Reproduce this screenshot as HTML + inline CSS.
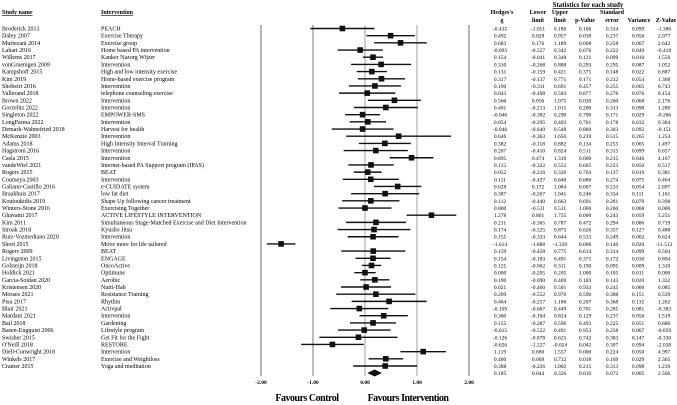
<!DOCTYPE html>
<html><head><meta charset="utf-8"><style>
html,body{margin:0;padding:0;background:#fff}
svg{display:block;font-family:"Liberation Serif",serif}
</style></head><body>
<svg id="chart" width="677" height="405" viewBox="0 0 677 405" xmlns="http://www.w3.org/2000/svg">
<g font-weight="bold" font-size="6" fill="#000">
<text x="2" y="14" text-decoration="underline">Study name</text>
<text x="101" y="14" text-decoration="underline">Intervention</text>
<text x="588" y="7" text-anchor="middle" font-size="7" text-decoration="underline">Statistics for each study</text>
<text x="502" y="14" text-anchor="middle">Hedges's</text>
<text x="502" y="22" text-anchor="middle">g</text>
<text x="538" y="14" text-anchor="middle">Lower</text>
<text x="538" y="22" text-anchor="middle">limit</text>
<text x="560" y="14" text-anchor="middle">Upper</text>
<text x="560" y="22" text-anchor="middle">limit</text>
<text x="585" y="22" text-anchor="middle">p-Value</text>
<text x="612" y="14" text-anchor="middle">Standard</text>
<text x="612" y="22" text-anchor="middle">error</text>
<text x="639" y="22" text-anchor="middle">Variance</text>
<text x="666" y="22" text-anchor="middle">Z-Value</text>
</g>
<g id="grid"></g>
<g id="rows"></g>
<g id="axis"></g>
<text x="307" y="401" text-anchor="middle" font-weight="bold" font-size="10" letter-spacing="-0.5">Favours Control</text>
<text x="408" y="401" text-anchor="middle" font-weight="bold" font-size="10" letter-spacing="-0.5">Favours Intervention</text>
</svg>
<script>
const studies=["Broderick 2013","Daley 2007","Murtezani 2014","Lahart 2016","Willems 2017","vonGruenigen 2009","Kampshoff 2015","Kim 2019","Shobeiri 2016","Vallerand 2018","Brown 2022","Gorzelitz 2022","Singleton 2022","LongParma 2022","Demark-Wahnefried 2018","McKenzie 2003","Adams 2018","Hagstrom 2016","Casla 2015","vandeWiel 2021","Rogers 2015","Coumeya 2003","Galiano-Castillo 2016","Braakhuis 2017","Koutoukidis 2019","Winters-Stone 2016","Ghavami 2017","Kim 2011","Stroak 2018","Ruiz-Vozmediano 2020","Short 2015","Rogers 2009","Livingston 2015","Golsteijn 2018","Holdick 2021","Garcia-Soidan 2020","Kristensen 2020","Moraes 2021","Pisu 2017","Blair 2021","Mardani 2021","Bail 2018","Basen-Engquist 2006","Swisher 2015","O'Neill 2018","Dieli-Conwright 2018","Winkels 2017","Cramer 2015"];
const interventions=["PEACH","Exercise Therapy","Exercise group","Home based PA intervention","Kanker Nazorg Wijzer","Intervention","High and low intensity exercise","Home-based exercise program","Intervention","telephone counseling exercise","Intervention","Intervention","EMPOWER-SMS","Intervention","Harvest for health","Intervention","High Intensity Interval Training","Intervention","Intervention","Internet-based PA Support program (IPAS)","BEAT","Intervention","e-CUIDATE system","low fat diet","Shape Up following cancer treatment","Exercising Together","ACTIVE LIFESTYLE INTERVENTION","Simultaneous Stage-Matched Exercise and Diet Intervention","Kyusho Jitsu","Intervention","Move more for life tailored","BEAT","ENGAGE","OncoActive","Optimune","Aerobic","Nutri-Hab","Resistance Training","Rhythm","Activpal","Intervention","Gardening","Lifestyle program","Get Fit for the Fight","RESTORE","Intervention","Exercise and Weightloss","Yoga and meditation"];
const hedges=[-0.435,0.492,0.683,-0.093,0.154,0.310,0.131,0.317,0.190,0.043,0.566,0.401,-0.046,0.054,-0.046,0.646,0.382,0.207,0.895,0.115,0.052,0.111,0.628,0.387,0.112,0.000,1.278,0.211,0.174,0.155,-1.614,0.159,0.154,0.125,0.000,0.190,0.021,0.209,0.464,-0.109,0.360,0.155,-0.015,-0.126,-0.626,1.119,0.400,0.388];
const lower=[-1.051,0.028,0.176,-0.527,-0.041,-0.268,-0.159,-0.137,-0.311,-0.498,0.056,-0.213,-0.382,-0.295,-0.640,-0.363,-0.118,-0.410,0.474,-0.322,-0.216,-0.427,0.172,-0.267,-0.440,-0.511,0.801,-0.365,-0.525,-0.333,-1.888,-0.458,-0.183,-0.062,-0.205,-0.090,-0.460,-0.552,-0.257,-0.667,-0.104,-0.287,-0.522,-0.878,-1.227,0.680,0.069,-0.226];
const upper=[0.180,0.957,1.189,0.342,0.348,0.888,0.421,0.771,0.691,0.583,1.075,1.015,0.290,0.403,0.548,1.656,0.882,0.824,1.316,0.552,0.320,0.648,1.084,1.041,0.663,0.511,1.755,0.787,0.873,0.644,-1.339,0.775,0.491,0.311,0.205,0.469,0.501,0.970,1.186,0.449,0.824,0.596,0.491,0.625,-0.024,1.557,0.732,1.002];
const pvals=["0.166","0.038","0.008","0.676","0.121","0.293","0.375","0.171","0.457","0.877","0.030","0.200","0.790","0.761","0.880","0.210","0.134","0.511","0.000","0.605","0.704","0.686","0.007","0.246","0.691","1.000","0.000","0.472","0.626","0.533","0.000","0.614","0.371","0.190","1.000","0.183","0.933","0.590","0.207","0.701","0.129","0.493","0.953","0.742","0.042","0.000","0.018","0.215"];
const stderr=["0.314","0.237","0.258","0.222","0.099","0.295","0.148","0.232","0.255","0.276","0.260","0.313","0.171","0.178","0.303","0.515","0.255","0.315","0.215","0.223","0.137","0.274","0.233","0.334","0.281","0.260","0.243","0.294","0.357","0.249","0.140","0.314","0.172","0.095","0.105","0.143","0.245","0.388","0.368","0.285","0.237","0.225","0.258","0.383","0.307","0.224","0.169","0.313"];
const variance=["0.099","0.056","0.067","0.049","0.010","0.087","0.022","0.054","0.065","0.076","0.068","0.098","0.029","0.032","0.092","0.265","0.065","0.099","0.046","0.050","0.019","0.075","0.054","0.111","0.079","0.068","0.059","0.086","0.127","0.062","0.020","0.099","0.030","0.009","0.011","0.020","0.060","0.151","0.135","0.081","0.056","0.051","0.067","0.147","0.094","0.050","0.029","0.098"];
const zvals=["-1.386","2.077","2.642","-0.418","1.550","1.052","0.887","1.368","0.743","0.154","2.176","1.280","-0.266","0.304","-0.151","1.254","1.497","0.657","4.167","0.517","0.381","0.404","2.697","1.161","0.398","0.000","5.251","0.719","0.488","0.624","-11.513","0.504","0.894","1.310","0.000","1.332","0.085","0.539","1.262","-0.383","1.519","0.686","-0.059","-0.330","-2.038","4.997","2.365","1.239"];
const summary=[0.185,0.044,0.326];
const summaryStats=["0.185","0.044","0.326","0.010","0.072","0.005","2.566"];
const ticks=[-2,-1,0,1,2];
const tickLabels=["-2.00","-1.00","0.00","1.00","2.00"];

const NS="http://www.w3.org/2000/svg";
const X=v=>365+v*52;
const ROW0=28.5, STEP=(366-28.5)/47;
const Y=i=>ROW0+i*STEP;
function mk(tag,attrs,parent,txt){const e=document.createElementNS(NS,tag);for(const k in attrs)e.setAttribute(k,attrs[k]);if(txt!==undefined)e.textContent=txt;parent.appendChild(e);return e;}
const grid=document.getElementById('grid'),rows=document.getElementById('rows'),axis=document.getElementById('axis');
ticks.forEach((t,i)=>{
  const col = t===2||t===-2 ? "#444" : "#a8a8a8";
  const w = t===-1 ? 1.6 : (t===2||t===-2 ? 0.8 : 1.1);
  const ln=mk('line',{x1:X(t),x2:X(t),y1:25,y2:376,stroke:col,'stroke-width':w},grid);
  
  
  const tx=mk('text',{x:X(t),y:384,'text-anchor':'middle','font-size':5.5,'font-weight':'bold'},axis,tickLabels[i]);
  
  
});
const cols=[500,538,560,585,612,638,664];
studies.forEach((s,i)=>{
  const y=Y(i);
  const g=mk('g',{},rows);
  
  
  const t1=mk('text',{x:2,y:y+2,'font-size':6},g,s);
  
  
  const t2=mk('text',{x:101,y:y+2,'font-size':6},g,interventions[i]);
  
  
  const ci=mk('line',{x1:X(lower[i]),x2:X(upper[i]),y1:y,y2:y,stroke:'#111','stroke-width':1.4},g);
  
  
  const sq=mk('rect',{x:X(hedges[i])-2.8,y:y-2.8,width:5.6,height:5.6,fill:'#111'},g);
  
  
  const vals=[hedges[i].toFixed(3),lower[i].toFixed(3),upper[i].toFixed(3),pvals[i],stderr[i],variance[i],zvals[i]];
  vals.forEach((v,j)=>{
    const c=mk('text',{x:cols[j],y:y+2,'font-size':5.5,'text-anchor':'middle'},g,v);
    
    
  });
});
const sy=373;
const d=mk('polygon',{points:`${X(summary[1])},${sy} ${X(summary[0])},${sy-3.5} ${X(summary[2])},${sy} ${X(summary[0])},${sy+3.5}`,fill:'#111'},rows);


summaryStats.forEach((v,j)=>{
  const c=mk('text',{x:cols[j],y:sy+2,'font-size':5.5,'text-anchor':'middle'},rows,v);
  
  
});
</script>
</body></html>
